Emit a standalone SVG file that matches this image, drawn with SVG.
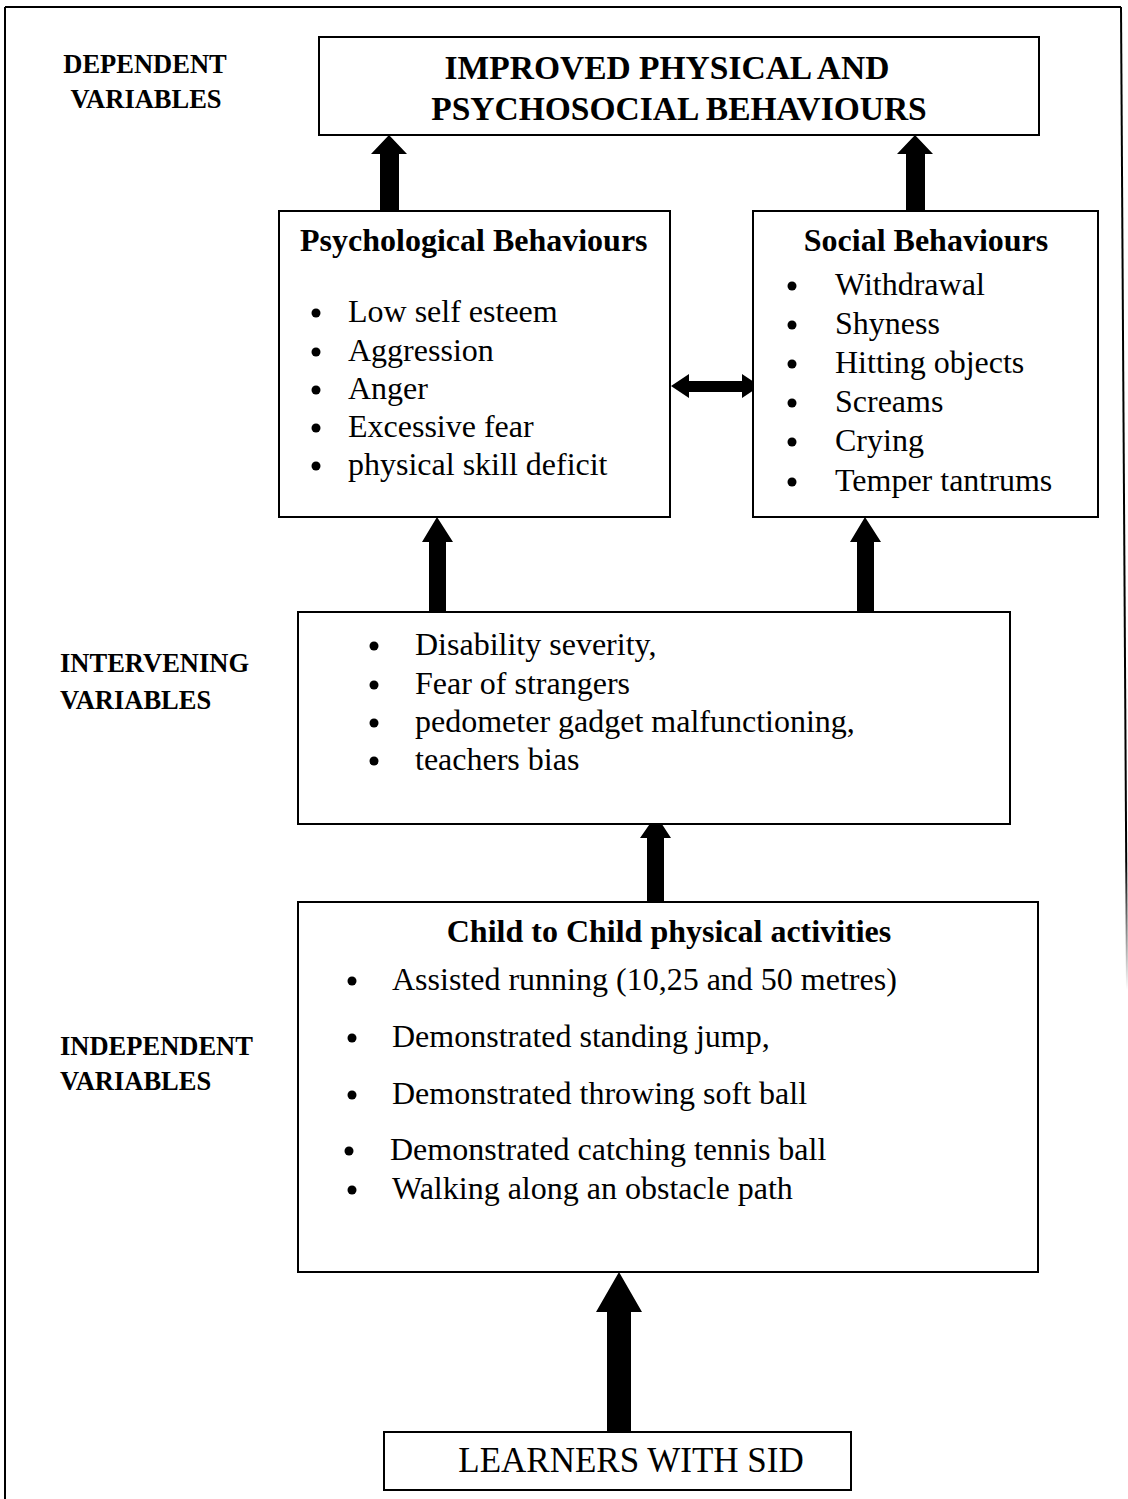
<svg xmlns="http://www.w3.org/2000/svg" width="1128" height="1499" viewBox="0 0 1128 1499">
<style>
.box{fill:#fff;stroke:#000;stroke-width:2}
.lab{font-family:"Liberation Serif",serif;font-weight:bold;font-size:26.5px;fill:#000}
.hd{font-family:"Liberation Serif",serif;font-weight:bold;font-size:32px;fill:#000}
.big{font-family:"Liberation Serif",serif;font-weight:bold;font-size:33.5px;fill:#000}
.tx{font-family:"Liberation Serif",serif;font-size:32px;fill:#000}
.ar{fill:#000}
</style>
<defs>
<linearGradient id="fade" x1="0" y1="0" x2="0" y2="1">
<stop offset="0" stop-color="#000"/>
<stop offset="0.87" stop-color="#000"/>
<stop offset="1" stop-color="#000" stop-opacity="0"/>
</linearGradient>
</defs>
<g id="frame">
<line x1="5" y1="7" x2="5" y2="1499" stroke="#000" stroke-width="2"/>
<line x1="5" y1="7" x2="1121" y2="7" stroke="#000" stroke-width="2"/>
<polygon points="1120,7 1122,7 1128,990 1126,990" fill="url(#fade)"/>
</g>
<g id="labels">
<text class="lab" x="145" y="73" text-anchor="middle">DEPENDENT</text>
<text class="lab" x="146" y="108" text-anchor="middle">VARIABLES</text>
<text class="lab" x="60" y="672">INTERVENING</text>
<text class="lab" x="60" y="709">VARIABLES</text>
<text class="lab" x="60" y="1055">INDEPENDENT</text>
<text class="lab" x="60" y="1090">VARIABLES</text>
</g>
<g id="connectors">
<polygon class="ar" points="380,211 380,154 371,154 389,135 407,154 399,154 399,211"/>
<polygon class="ar" points="906,211 906,154 897,154 915,135 933,154 925,154 925,211"/>
<polygon class="ar" points="671,386 689,374 689,381 742,381 742,374 760,386 742,398 742,392 689,392 689,398"/>
<polygon class="ar" points="429,613 429,542 422,542 437,517 453,542 446,542 446,613"/>
<polygon class="ar" points="857,613 857,542 850,542 865,517 881,542 874,542 874,613"/>
<polygon class="ar" points="647,902 647,838 640,838 656,815 671,838 664,838 664,902"/>
<polygon class="ar" points="607,1432 607,1312 596,1312 619,1272 642,1312 631,1312 631,1432"/>
</g>
<g id="node-outcome">
<rect class="box" x="319" y="37" width="720" height="98"/>
<text class="big" x="667" y="79" text-anchor="middle">IMPROVED PHYSICAL AND</text>
<text class="big" x="679" y="120" text-anchor="middle">PSYCHOSOCIAL BEHAVIOURS</text>
</g>
<g id="node-psychological">
<rect class="box" x="279" y="211" width="391" height="306"/>
<text class="hd" x="300" y="251">Psychological Behaviours</text>
<circle cx="316" cy="313" r="4.5"/><text class="tx" x="348" y="322">Low self esteem</text>
<circle cx="316" cy="352" r="4.5"/><text class="tx" x="348" y="361">Aggression</text>
<circle cx="316" cy="390" r="4.5"/><text class="tx" x="348" y="399">Anger</text>
<circle cx="316" cy="428" r="4.5"/><text class="tx" x="348" y="437">Excessive fear</text>
<circle cx="316" cy="466" r="4.5"/><text class="tx" x="348" y="475">physical skill deficit</text>
</g>
<g id="node-social">
<rect class="box" x="753" y="211" width="345" height="306"/>
<text class="hd" x="926" y="251" text-anchor="middle">Social Behaviours</text>
<circle cx="792" cy="286" r="4.5"/><text class="tx" x="835" y="295">Withdrawal</text>
<circle cx="792" cy="325" r="4.5"/><text class="tx" x="835" y="334">Shyness</text>
<circle cx="792" cy="364" r="4.5"/><text class="tx" x="835" y="373">Hitting objects</text>
<circle cx="792" cy="403" r="4.5"/><text class="tx" x="835" y="412">Screams</text>
<circle cx="792" cy="442" r="4.5"/><text class="tx" x="835" y="451">Crying</text>
<circle cx="792" cy="482" r="4.5"/><text class="tx" x="835" y="491">Temper tantrums</text>
</g>
<g id="node-intervening">
<rect class="box" x="298" y="612" width="712" height="212"/>
<circle cx="374" cy="646" r="4.5"/><text class="tx" x="415" y="655">Disability severity,</text>
<circle cx="374" cy="685" r="4.5"/><text class="tx" x="415" y="694">Fear of strangers</text>
<circle cx="374" cy="723" r="4.5"/><text class="tx" x="415" y="732">pedometer gadget malfunctioning,</text>
<circle cx="374" cy="761" r="4.5"/><text class="tx" x="415" y="770">teachers bias</text>
</g>
<g id="node-independent">
<rect class="box" x="298" y="902" width="740" height="370"/>
<text class="hd" x="669" y="942" text-anchor="middle">Child to Child physical activities</text>
<circle cx="352" cy="981" r="4.5"/><text class="tx" x="392" y="990">Assisted running (10,25 and 50 metres)</text>
<circle cx="352" cy="1038" r="4.5"/><text class="tx" x="392" y="1047">Demonstrated standing jump,</text>
<circle cx="352" cy="1095" r="4.5"/><text class="tx" x="392" y="1104">Demonstrated throwing soft ball</text>
<circle cx="349" cy="1151" r="4.5"/><text class="tx" x="390" y="1160">Demonstrated catching tennis ball</text>
<circle cx="352" cy="1190" r="4.5"/><text class="tx" x="392" y="1199">Walking along an obstacle path</text>
</g>
<g id="node-learners">
<rect class="box" x="384" y="1432" width="467" height="58"/>
<text class="tx" x="631" y="1472" text-anchor="middle" style="font-size:35px">LEARNERS WITH SID</text>
</g>
</svg>
